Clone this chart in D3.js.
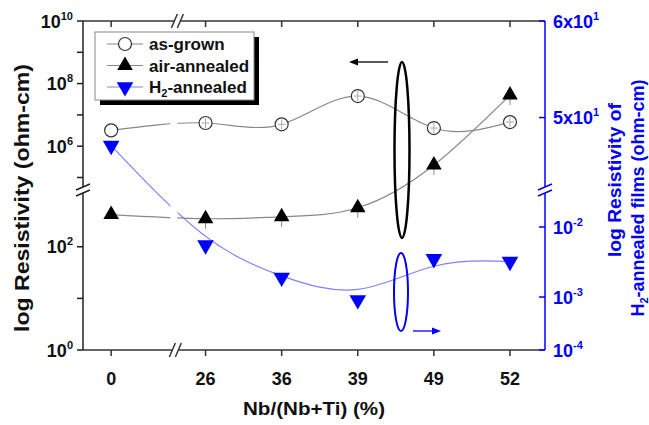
<!DOCTYPE html>
<html>
<head>
<meta charset="utf-8">
<script src="https://cdn.jsdelivr.net/npm/d3@7"></script>
<style>
  body { margin: 0; background: #fff; }
  svg { font-family: Arial, "Liberation Sans", sans-serif; font-weight: bold; }
</style>
</head>
<body>
<svg id="chart" width="649" height="425"></svg>
<script>
// Nb/(Nb+Ti) composition categories
const composition = ['0', '26', '36', '39', '49', '52'];

// resistivity (ohm-cm)
const asGrown = [3.2e6, 5.5e6, 5.0e6, 4.0e7, 3.8e6, 5.9e6];
const airAnnealed = [4.2e2, 3.5e2, 3.8e2, 5.7e2, 2.5e5, 4.3e7];
const h2Annealed = [47.1, 5.5e-3, 1.9e-3, 8.8e-4, 3.5e-3, 3.2e-3];

// axis ticks
const leftMajorUpper = [1e6, 1e8, 1e10];
const leftMinorUpper = [1e5, 1e7, 1e9];
const leftMajorLower = [1e0, 1e2];
const leftMinorLower = [1e1];
const rightUpperTicks = [50, 60];
const rightLowerTicks = [1e-4, 1e-3, 1e-2];

const svg = d3.select('#chart');
const pL = 83, pR = 545, pT = 21, pB = 350, yBreak = 190;
const grey = '#888', blue = '#0000ff', lightBlue = '#8080ff';

// x: first category sits apart from the rest (axis break)
const slot = i => i === 0 ? 0 : i + 0.24;
const x = d3.scaleLinear().domain([-0.37, 5.70]).range([pL, pR]);
const xi = i => x(slot(i));

// left axis, broken in two log segments
const yUp = d3.scaleLog().domain([Math.pow(10, 4.6), 1e10]).range([yBreak, pT]);
const yLow = d3.scaleLog().domain([1, Math.pow(10, 3.1)]).range([pB, yBreak]);
const yLeft = v => v >= Math.pow(10, 4.6) ? yUp(v) : yLow(v);

// right axis (H2-annealed), linear top segment, log bottom segment
const yRUp = d3.scaleLinear().domain([42.5, 60]).range([yBreak, pT]);
const yRLow = d3.scaleLog().domain([1e-4, 1e-3, 1e-2, Math.pow(10, -1.47)]).range([pB, 297, 227, yBreak]);
const yRight = v => v >= 1 ? yRUp(v) : yRLow(v);

// ---- frame lines ----
svg.append('line').attr('x1', pL).attr('x2', pR).attr('y1', pT).attr('y2', pT)
  .attr('stroke', '#333').attr('stroke-width', 1.5);
svg.append('line').attr('x1', pL).attr('x2', pR).attr('y1', pB).attr('y2', pB)
  .attr('stroke', '#333').attr('stroke-width', 1.5);
svg.append('line').attr('x1', pL).attr('x2', pL).attr('y1', pT).attr('y2', pB)
  .attr('stroke', '#222').attr('stroke-width', 1.5);
svg.append('line').attr('x1', pR).attr('x2', pR).attr('y1', pT).attr('y2', pB)
  .attr('stroke', blue).attr('stroke-width', 1.5);

// ---- x ticks (bottom outward, top inward) ----
composition.forEach((c, i) => {
  svg.append('line').attr('x1', xi(i)).attr('x2', xi(i)).attr('y1', pB).attr('y2', pB + 6)
    .attr('stroke', '#333').attr('stroke-width', 1.5);
  svg.append('line').attr('x1', xi(i)).attr('x2', xi(i)).attr('y1', pT).attr('y2', pT + 6)
    .attr('stroke', '#333').attr('stroke-width', 1.5);
  svg.append('text').attr('x', xi(i)).attr('y', pB + 35)
    .attr('text-anchor', 'middle').attr('font-size', 18).attr('fill', '#111').text(c);
});
svg.append('text').attr('x', 314).attr('y', 415).attr('text-anchor', 'middle')
  .attr('font-size', 19).attr('fill', '#111')
  .attr('textLength', 142).attr('lengthAdjust', 'spacingAndGlyphs')
  .text('Nb/(Nb+Ti) (%)');

// ---- left ticks ----
function powLabel(g, xPos, yPos, anchor, pre, exp, color) {
  const t = g.append('text').attr('x', xPos).attr('y', yPos + 6.5)
    .attr('text-anchor', anchor).attr('font-size', 18).attr('fill', color);
  t.append('tspan').text(pre + '10');
  t.append('tspan').attr('dy', -8).attr('font-size', 11).text(exp);
}
const leftTicks = [
  ...leftMajorUpper.map(v => ({ y: yUp(v), v, major: true })),
  ...leftMinorUpper.map(v => ({ y: yUp(v), v, major: false })),
  ...leftMajorLower.map(v => ({ y: yLow(v), v, major: true })),
  ...leftMinorLower.map(v => ({ y: yLow(v), v, major: false }))
];
leftTicks.forEach(t => {
  svg.append('line').attr('x1', pL - 6).attr('x2', pL).attr('y1', t.y).attr('y2', t.y)
    .attr('stroke', '#222').attr('stroke-width', 1.5);
  if (t.major) powLabel(svg, 73, t.y, 'end', '', Math.round(Math.log10(t.v)), '#111');
});
svg.append('text').attr('transform', `translate(29,198) rotate(-90)`)
  .attr('text-anchor', 'middle').attr('font-size', 20).attr('fill', '#111')
  .attr('textLength', 268).attr('lengthAdjust', 'spacingAndGlyphs')
  .text('log Resistivity (ohm-cm)');

// ---- right ticks ----
rightUpperTicks.forEach(v => {
  svg.append('line').attr('x1', pR - 6).attr('x2', pR).attr('y1', yRUp(v)).attr('y2', yRUp(v))
    .attr('stroke', blue).attr('stroke-width', 1.5);
  powLabel(svg, 553, yRUp(v), 'start', (v / 10) + 'x', 1, blue);
});
rightLowerTicks.forEach(v => {
  svg.append('line').attr('x1', pR - 6).attr('x2', pR).attr('y1', yRLow(v)).attr('y2', yRLow(v))
    .attr('stroke', blue).attr('stroke-width', 1.5);
  powLabel(svg, 553, yRLow(v), 'start', '', Math.round(Math.log10(v)), blue);
});
svg.append('text').attr('transform', `translate(621,180) rotate(-90)`)
  .attr('text-anchor', 'middle').attr('font-size', 18).attr('fill', blue)
  .attr('textLength', 154).attr('lengthAdjust', 'spacingAndGlyphs')
  .text('log Resistivity of');
const rt = svg.append('text').attr('transform', `translate(644,198) rotate(-90)`)
  .attr('text-anchor', 'middle').attr('font-size', 18).attr('fill', blue);
rt.append('tspan').text('H');
rt.append('tspan').attr('dy', 4).attr('font-size', 11).text('2');
rt.append('tspan').attr('dy', -4).text('-annealed films (ohm-cm)');

// ---- axis break marks ----
function vBreak(cx, cy, color) {
  svg.append('rect').attr('x', cx - 3).attr('y', cy - 3).attr('width', 6).attr('height', 6).attr('fill', '#fff');
  [-3, 3].forEach(o => svg.append('line')
    .attr('x1', cx - 7).attr('y1', cy + o + 3).attr('x2', cx + 7).attr('y2', cy + o - 3)
    .attr('stroke', color).attr('stroke-width', 1.5));
}
function hBreak(cx, cy) {
  svg.append('rect').attr('x', cx - 3).attr('y', cy - 3).attr('width', 6).attr('height', 6).attr('fill', '#fff');
  [-3, 3].forEach(o => svg.append('line')
    .attr('x1', cx + o - 3).attr('y1', cy + 7).attr('x2', cx + o + 3).attr('y2', cy - 7)
    .attr('stroke', '#333').attr('stroke-width', 1.5));
}

// ---- curves ----
const ptsAs = asGrown.map((v, i) => [xi(i), yLeft(v)]);
const ptsAir = airAnnealed.map((v, i) => [xi(i), yLeft(v)]);
const ptsH2 = h2Annealed.map((v, i) => [xi(i), yRight(v)]);

const lineNat = d3.line().curve(d3.curveNatural);
const lineBasis = d3.line().curve(d3.curveBasis);

const curves = svg.append('g');
curves.append('path').attr('d', lineBasis(ptsH2)).attr('fill', 'none')
  .attr('stroke', lightBlue).attr('stroke-width', 1.2);
curves.append('path').attr('d', lineNat(ptsAs)).attr('fill', 'none')
  .attr('stroke', grey).attr('stroke-width', 1.2);
curves.append('path').attr('d', lineNat(ptsAir)).attr('fill', 'none')
  .attr('stroke', grey).attr('stroke-width', 1.2);
// gap in the curves where the x axis is broken
svg.append('rect').attr('x', (xi(0) + xi(1)) / 2 + 12).attr('y', pT + 2)
  .attr('width', 7).attr('height', pB - pT - 4).attr('fill', '#fff');

vBreak(pL, yBreak, '#222');
vBreak(pR, yBreak, blue);
hBreak((xi(0) + xi(1)) / 2 + 17, pB);
hBreak((xi(0) + xi(1)) / 2 + 19, pT);

// ---- markers ----
const triUp = d3.symbol().type(d3.symbolTriangle).size(105);
const triDown = d3.symbol().type(d3.symbolTriangle).size(120);

// error bars
ptsAir.forEach((p, i) => {
  if (i > 0) svg.append('line').attr('x1', p[0]).attr('x2', p[0]).attr('y1', p[1]).attr('y2', p[1] + 10)
    .attr('stroke', grey).attr('stroke-width', 1);
});
svg.selectAll('.air').data(ptsAir).enter().append('path')
  .attr('d', triUp).attr('transform', d => `translate(${d[0]},${d[1]})`).attr('fill', '#000');

svg.selectAll('.as').data(ptsAs).enter().append('circle')
  .attr('cx', d => d[0]).attr('cy', d => d[1]).attr('r', 6.5)
  .attr('fill', '#fff').attr('stroke', '#333').attr('stroke-width', 1.2);
ptsAs.forEach((p, i) => {
  if (i === 0) return;
  svg.append('line').attr('x1', p[0]).attr('x2', p[0]).attr('y1', p[1] - 5).attr('y2', p[1] + 5)
    .attr('stroke', '#aaa').attr('stroke-width', 1);
  svg.append('line').attr('x1', p[0] - 4).attr('x2', p[0] + 4).attr('y1', p[1]).attr('y2', p[1])
    .attr('stroke', '#aaa').attr('stroke-width', 1);
});

svg.selectAll('.h2').data(ptsH2).enter().append('path')
  .attr('d', triDown).attr('transform', d => `translate(${d[0]},${d[1]}) rotate(180)`).attr('fill', blue);

// ---- ellipses and arrows ----
svg.append('ellipse').attr('cx', 402).attr('cy', 150).attr('rx', 7.5).attr('ry', 88)
  .attr('fill', 'none').attr('stroke', '#000').attr('stroke-width', 2.5);
svg.append('ellipse').attr('cx', 401).attr('cy', 292).attr('rx', 7).attr('ry', 39)
  .attr('fill', 'none').attr('stroke', blue).attr('stroke-width', 2);

svg.append('line').attr('x1', 388).attr('x2', 356).attr('y1', 62).attr('y2', 62)
  .attr('stroke', '#000').attr('stroke-width', 1.3);
svg.append('path').attr('d', 'M349,62 L358,58.5 L358,65.5 Z').attr('fill', '#000');
svg.append('line').attr('x1', 413).attr('x2', 434).attr('y1', 331).attr('y2', 331)
  .attr('stroke', blue).attr('stroke-width', 1.3);
svg.append('path').attr('d', 'M441,331 L432,327.5 L432,334.5 Z').attr('fill', blue);

// ---- legend ----
const lg = svg.append('g');
lg.append('rect').attr('x', 100).attr('y', 37).attr('width', 159).attr('height', 68).attr('fill', '#000');
lg.append('rect').attr('x', 95).attr('y', 32).attr('width', 159).attr('height', 68)
  .attr('fill', '#fff').attr('stroke', '#888').attr('stroke-width', 1);
const legendItems = [
  { name: 'as-grown', color: grey },
  { name: 'air-annealed', color: grey },
  { name: 'H2-annealed', color: lightBlue }
];
legendItems.forEach((d, i) => {
  const ly = 44 + i * 21.5;
  lg.append('line').attr('x1', 107).attr('x2', 143).attr('y1', ly).attr('y2', ly)
    .attr('stroke', d.color).attr('stroke-width', 1.2);
  if (i === 0) {
    lg.append('circle').attr('cx', 125).attr('cy', ly).attr('r', 6.5)
      .attr('fill', '#fff').attr('stroke', '#333').attr('stroke-width', 1.2);
  } else if (i === 1) {
    lg.append('path').attr('d', triUp).attr('transform', `translate(125,${ly})`).attr('fill', '#000');
  } else {
    lg.append('path').attr('d', triDown).attr('transform', `translate(125,${ly}) rotate(180)`).attr('fill', blue);
  }
  const t = lg.append('text').attr('x', 149).attr('y', ly + 6).attr('font-size', 17).attr('fill', '#111');
  if (i === 2) {
    t.append('tspan').text('H');
    t.append('tspan').attr('dy', 4).attr('font-size', 11).text('2');
    t.append('tspan').attr('dy', -4).text('-annealed');
  } else {
    t.text(d.name);
  }
});
</script>
</body>
</html>
